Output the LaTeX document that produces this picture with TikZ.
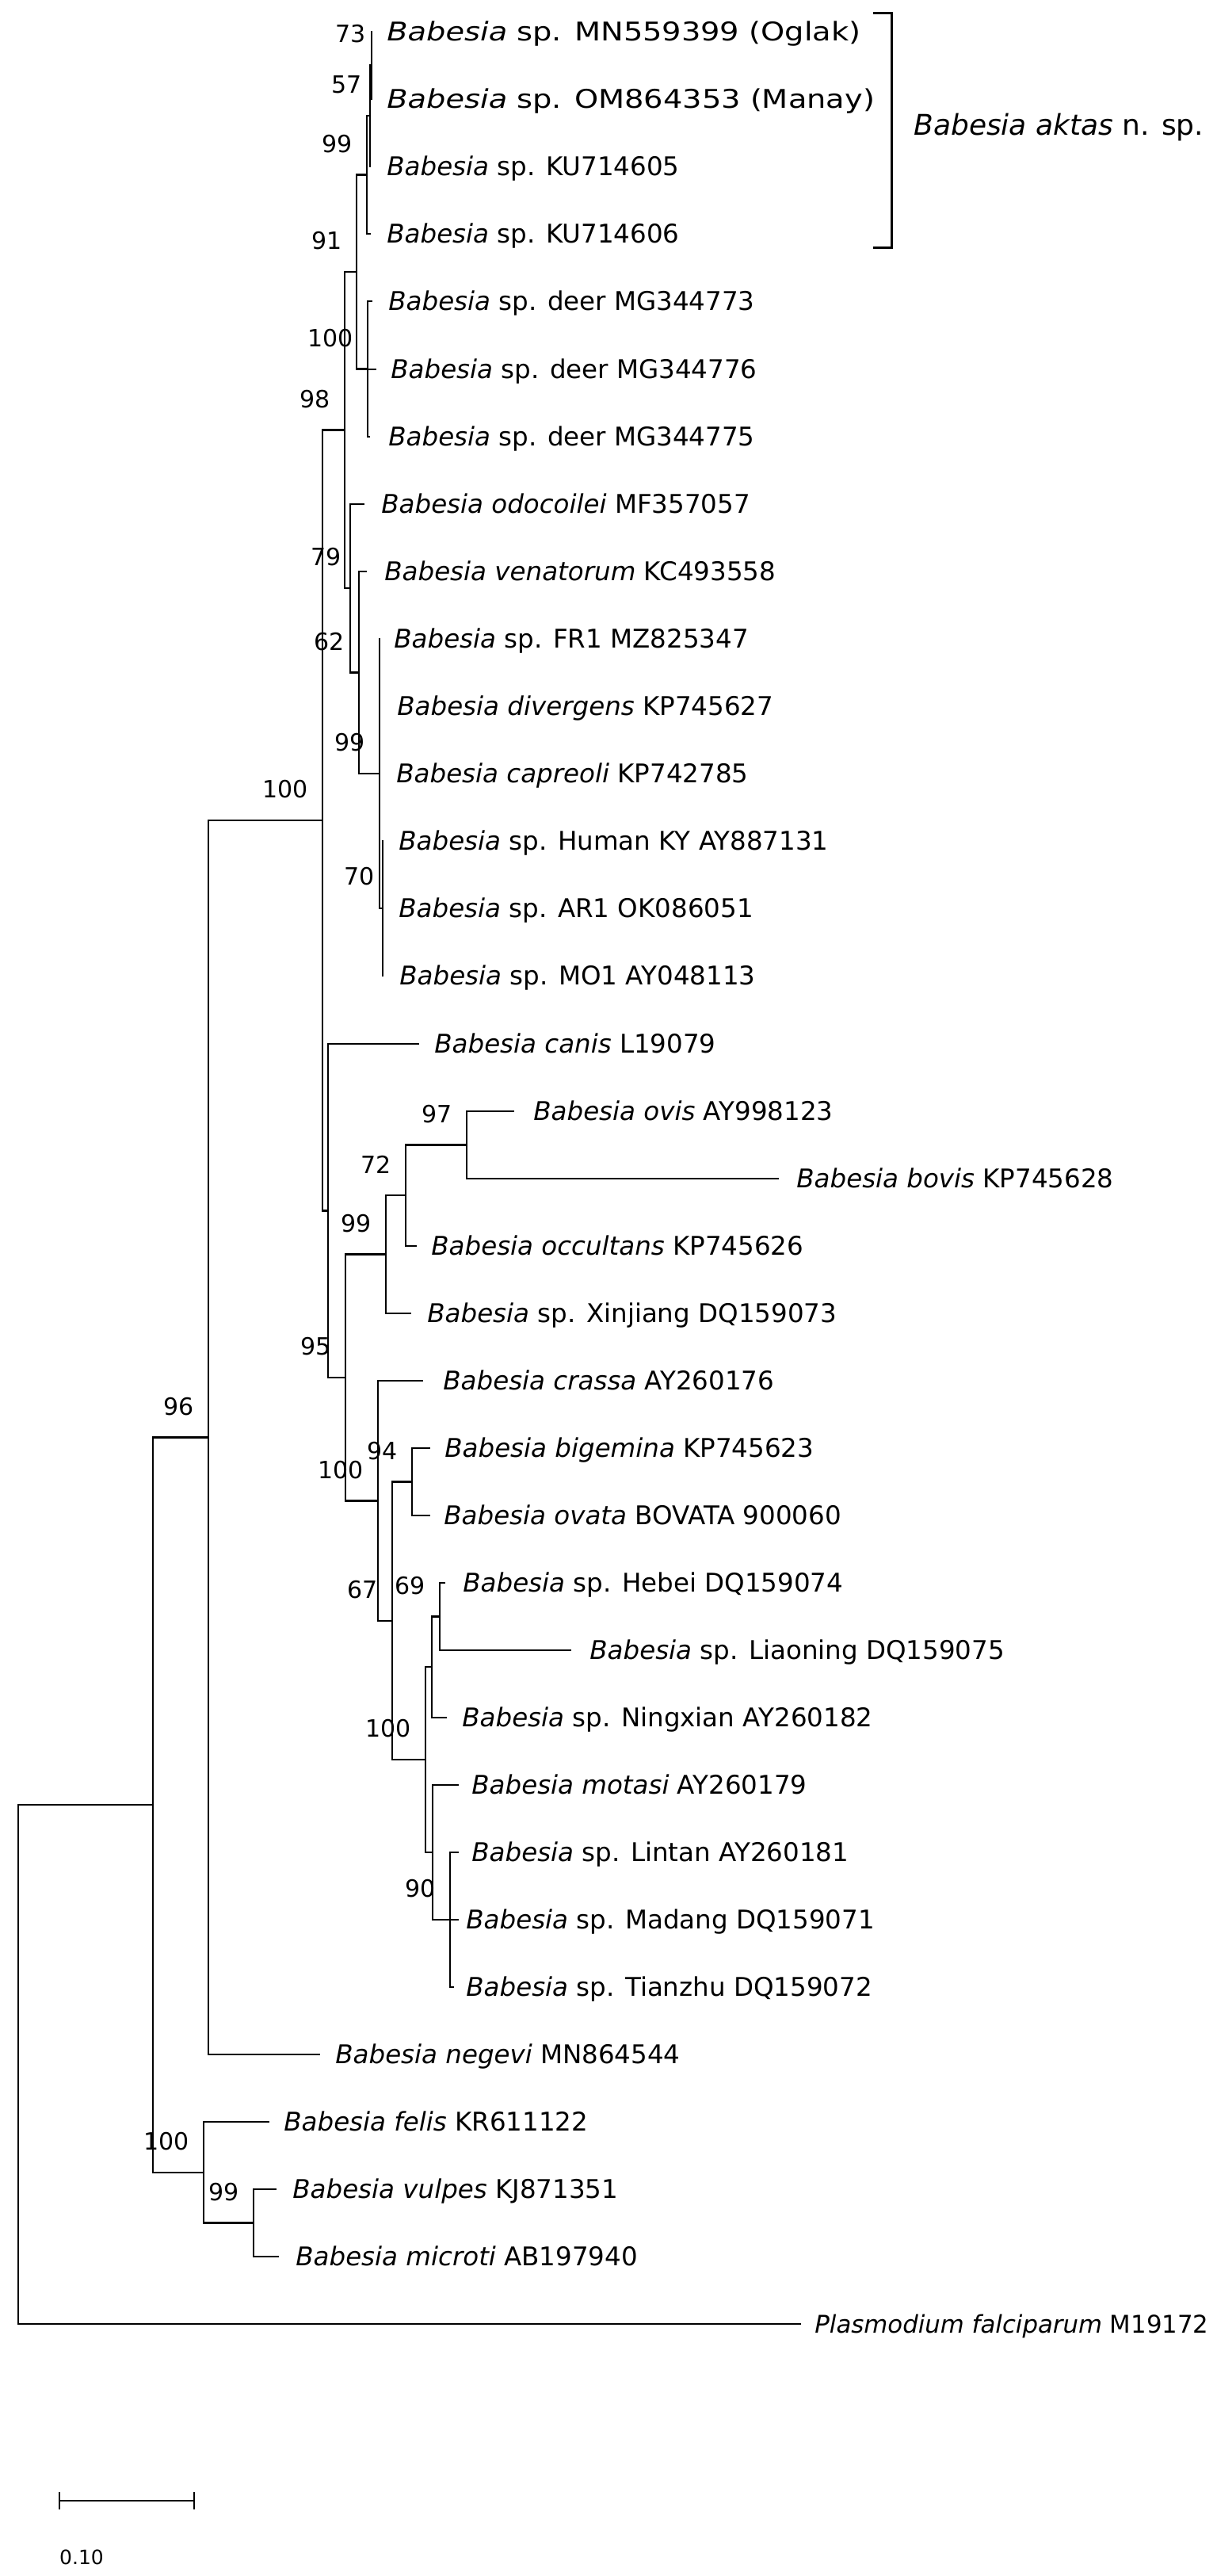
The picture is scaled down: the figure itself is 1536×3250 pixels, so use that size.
\documentclass[tikz,border=0pt]{standalone}
\usepackage{fontspec}
\setmainfont{DejaVu Sans}
\newfontfamily\widefont{DejaVu Sans}[FakeStretch=1.18]
\newcommand\tipfont{\fontsize{16.25pt}{19pt}\selectfont}
\newcommand\widetipfont{\widefont\fontsize{16.25pt}{19pt}\selectfont}
\newcommand\bootfont{\fontsize{15pt}{18pt}\selectfont}
\newcommand\Bab{\textit{Babesia}}
\tikzset{
  branch/.style={line width=1.1pt, line cap=rect},
  tiptext/.style={anchor=west, inner sep=0pt, text height=11.85pt, text depth=0pt, font=\tipfont},
  boot/.style={anchor=east, inner sep=0pt, font=\bootfont},
  bracketline/.style={line width=1.5pt},
}
\newcommand\tipnode[5]{\coordinate (#1) at (#2,#4); \node[tiptext] (#1l) at (#3,#4) {#5};}
\newcommand\inode[4]{\coordinate (#1) at (#2,#3); \node[boot] (#1b) at ([shift={(-9pt,19.5pt)}]#1) {#4};}
\newcommand\inodes[6]{\coordinate (#1) at (#2,#3); \node[boot] (#1b) at ([shift={(#5,#6)}]#1) {#4};}
\begin{document}
\begin{tikzpicture}[x=0.5pt, y=-0.5pt]
\fill[white] (0,0) rectangle (1536,3250);
\useasboundingbox (0,0) rectangle (1536,3250);

% tips
\tipnode{t1}{469}{488}{40}{\widetipfont\Bab{} sp. MN559399 (Oglak)}
\tipnode{t2}{469}{488}{125}{\widetipfont\Bab{} sp. OM864353 (Manay)}
\tipnode{t3}{467}{488}{210}{\Bab{} sp. KU714605}
\tipnode{t4}{467}{488}{295}{\Bab{} sp. KU714606}
\tipnode{t5}{469}{490}{380}{\Bab{} sp. deer MG344773}
\tipnode{t6}{474}{493}{466}{\Bab{} sp. deer MG344776}
\tipnode{t7}{466}{490}{551}{\Bab{} sp. deer MG344775}
\tipnode{t8}{459}{481}{636}{\textit{Babesia odocoilei} MF357057}
\tipnode{t9}{462}{485}{721}{\textit{Babesia venatorum} KC493558}
\tipnode{t10}{479}{497}{806}{\Bab{} sp. FR1 MZ825347}
\tipnode{t11}{479}{501}{891}{\textit{Babesia divergens} KP745627}
\tipnode{t12}{479}{500}{976}{\textit{Babesia capreoli} KP742785}
\tipnode{t13}{483}{503}{1061}{\Bab{} sp. Human KY AY887131}
\tipnode{t14}{483}{503}{1146}{\Bab{} sp. AR1 OK086051}
\tipnode{t15}{483}{504}{1231}{\Bab{} sp. MO1 AY048113}
\tipnode{t16}{528}{548}{1317}{\textit{Babesia canis} L19079}
\tipnode{t17}{648}{673}{1402}{\textit{Babesia ovis} AY998123}
\tipnode{t18}{982}{1005}{1487}{\textit{Babesia bovis} KP745628}
\tipnode{t19}{525}{544}{1572}{\textit{Babesia occultans} KP745626}
\tipnode{t20}{518}{539}{1657}{\Bab{} sp. Xinjiang DQ159073}
\tipnode{t21}{533}{559}{1742}{\textit{Babesia crassa} AY260176}
\tipnode{t22}{542}{561}{1827}{\textit{Babesia bigemina} KP745623}
\tipnode{t23}{542}{560}{1912}{\textit{Babesia ovata} BOVATA 900060}
\tipnode{t24}{561}{584}{1997}{\Bab{} sp. Hebei DQ159074}
\tipnode{t25}{720}{744}{2082}{\Bab{} sp. Liaoning DQ159075}
\tipnode{t26}{563}{583}{2167}{\Bab{} sp. Ningxian AY260182}
\tipnode{t27}{578}{595}{2252}{\textit{Babesia motasi} AY260179}
\tipnode{t28}{578}{595}{2337}{\Bab{} sp. Lintan AY260181}
\tipnode{t29}{578}{588}{2422}{\Bab{} sp. Madang DQ159071}
\tipnode{t30}{572}{588}{2507}{\Bab{} sp. Tianzhu DQ159072}
\tipnode{t31}{403}{423}{2592}{\textit{Babesia negevi} MN864544}
\tipnode{t32}{339}{358}{2677}{\textit{Babesia felis} KR611122}
\tipnode{t33}{348}{369}{2762}{\textit{Babesia vulpes} KJ871351}
\tipnode{t34}{351}{373}{2847}{\textit{Babesia microti} AB197940}
\tipnode{t35}{1010}{1028}{2932}{\fontsize{15.4pt}{18pt}\selectfont\textit{Plasmodium falciparum} M19172}

% internal nodes
\inodes{n73}{469}{82.5}{73}{-3.5pt}{19.75pt}
\inodes{n57}{467}{146}{57}{-5pt}{19.5pt}
\inode{n99a}{463}{220.5}{99}
\inode{ndeer}{464}{465.5}{100}
\inode{n91}{450}{343}{91}
\inode{ny98}{435}{542.5}{98}
\inodes{naa79}{442}{742}{79}{-5.5pt}{19.5pt}
\inode{nv62}{453}{848.5}{62}
\inode{nt99}{479}{976}{99}
\inodes{nu70}{483}{1146}{70}{-5pt}{20pt}
\inode{nd100}{407}{1035}{100}
\coordinate (ng) at (414,1527.5);
\inode{nh95}{436}{1738}{95}
\inode{ni99}{487}{1582.5}{99}
\inode{nk72}{512}{1508}{72}
\inode{nl97}{589}{1444.5}{97}
\inode{nj100}{477}{1893.5}{100}
\inode{nm67}{495}{2045}{67}
\inode{nn94}{520}{1869.5}{94}
\inode{no100}{537}{2220}{100}
\coordinate (np2) at (545,2103);
\inode{np69}{555}{2039.5}{69}
\coordinate (nq) at (546,2337);
\inode{nr90}{568}{2422}{90}
\inode{nb96}{263}{1813.5}{96}
\coordinate (na) at (193,2277);
\inode{nc100}{257}{2741}{100}
\inode{ns99}{320}{2804.5}{99}
\coordinate (nroot) at (23,2604.5);

% branches
\foreach \p/\c in {n73/t1, n73/t2, n57/n73, n57/t3, n99a/n57, n99a/t4,
  ndeer/t5, ndeer/t6, ndeer/t7, n91/n99a, n91/ndeer,
  ny98/n91, ny98/naa79, naa79/t8, naa79/nv62, nv62/t9, nv62/nt99,
  nt99/t10, nt99/t11, nt99/t12, nt99/nu70, nu70/t13, nu70/t14, nu70/t15,
  nd100/ny98, nd100/ng, ng/t16, ng/nh95, nh95/ni99, nh95/nj100,
  ni99/nk72, ni99/t20, nk72/nl97, nk72/t19, nl97/t17, nl97/t18,
  nj100/t21, nj100/nm67, nm67/nn94, nm67/no100, nn94/t22, nn94/t23,
  no100/np2, no100/nq, np2/np69, np2/t26, np69/t24, np69/t25,
  nq/t27, nq/nr90, nr90/t28, nr90/t29, nr90/t30,
  nb96/nd100, nb96/t31, na/nb96, na/nc100, nc100/t32, nc100/ns99,
  ns99/t33, ns99/t34, nroot/na, nroot/t35}
  \draw[branch] (\p) |- (\c);

% bracket
\coordinate (brtop) at (1102,16);
\coordinate (brbot) at (1102,312);
\draw[bracketline] (brtop) -- ++(23,0) |- (brbot);
\node[anchor=west, inner sep=0pt, text height=13.1pt, text depth=0pt,
  font=\fontsize{18pt}{21pt}\selectfont] (aktas) at (1153,157) {\textit{Babesia aktas} n. sp.};

% scale bar
\coordinate (sba) at (75,3155);
\coordinate (sbb) at (245,3155);
\draw[branch] (sba) -- (sbb);
\draw[branch] ([yshift=5pt]sba) -- ([yshift=-5pt]sba);
\draw[branch] ([yshift=5pt]sbb) -- ([yshift=-5pt]sbb);
\node[inner sep=0pt, font=\fontsize{12.5pt}{15pt}\selectfont] (sblabel) at (103,3226) {0.10};
\end{tikzpicture}
\end{document}
